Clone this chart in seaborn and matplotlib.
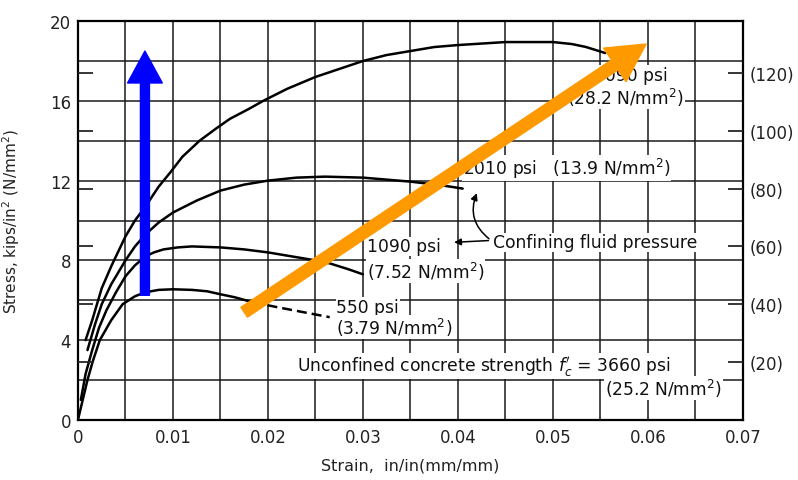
import numpy as np
import pandas as pd
import matplotlib
matplotlib.use("Agg")
import matplotlib.pyplot as plt
import seaborn as sns

# ---------------------------------- Data ------------------------------------------------------------

# strain (in/in) and stress (kips/in^2) for each confining pressure
strain_4090 = [0.0008, 0.0015, 0.0025, 0.0035, 0.005, 0.006, 0.0071, 0.0085, 0.0097, 0.011,
               0.0128, 0.0145, 0.016, 0.018, 0.0195, 0.022, 0.025, 0.0275, 0.030, 0.0325,
               0.035, 0.0375, 0.040, 0.045, 0.050, 0.052, 0.0535, 0.0555]
stress_4090 = [4.0, 5.0, 6.6, 7.7, 9.2, 10.0, 10.7, 11.7, 12.4, 13.2,
               14.0, 14.6, 15.1, 15.6, 16.0, 16.6, 17.2, 17.6, 18.0, 18.3,
               18.5, 18.7, 18.8, 18.95, 18.95, 18.85, 18.7, 18.4]

strain_2010 = [0.001, 0.0018, 0.0025, 0.0035, 0.005, 0.006, 0.0071, 0.0085, 0.010, 0.0125,
               0.015, 0.0175, 0.020, 0.023, 0.026, 0.030, 0.035, 0.0385, 0.0405]
stress_2010 = [3.5, 4.8, 5.8, 6.8, 8.0, 8.7, 9.3, 9.9, 10.4, 11.0,
               11.5, 11.8, 12.0, 12.15, 12.2, 12.15, 11.95, 11.75, 11.6]

strain_1090 = [0.0003, 0.0008, 0.0015, 0.0022, 0.003, 0.004, 0.005, 0.006, 0.0071, 0.008,
               0.009, 0.0105, 0.012, 0.015, 0.0175, 0.020, 0.0225, 0.025, 0.0265, 0.0285, 0.030]
stress_1090 = [1.0, 2.3, 3.5, 4.6, 5.5, 6.4, 7.2, 7.75, 8.2, 8.4,
               8.55, 8.65, 8.7, 8.65, 8.55, 8.4, 8.2, 8.0, 7.85, 7.55, 7.3]

strain_550 = [0.0, 0.0005, 0.001, 0.0016, 0.0023, 0.0035, 0.0047, 0.006, 0.0071, 0.0085,
              0.010, 0.012, 0.0136, 0.015, 0.0165, 0.0184]
stress_550 = [0.0, 1.0, 2.0, 3.0, 4.0, 5.0, 5.8, 6.2, 6.4, 6.52,
              6.55, 6.52, 6.45, 6.3, 6.15, 5.9]
strain_550_dash = [0.0184, 0.021, 0.0265]
stress_550_dash = [5.9, 5.65, 5.15]

x_ticks = [0, 0.01, 0.02, 0.03, 0.04, 0.05, 0.06, 0.07]
x_labels = ["0", "0.01", "0.02", "0.03", "0.04", "0.05", "0.06", "0.07"]
y_ticks = [0, 4, 8, 12, 16, 20]
si_ticks = [20, 40, 60, 80, 100, 120]
si_labels = ["(20)", "(40)", "(60)", "(80)", "(100)", "(120)"]
KSI_TO_MPA = 6.895

# ----------------------------------- Visualization ---------------------------

sns.set_style("white")
plt.rcParams["font.family"] = ["DejaVu Sans"]

fig = plt.figure(figsize=(7.98, 4.81), dpi=100)
ax = fig.add_axes([0.0977, 0.125, 0.8333, 0.829])

line_kw = dict(color="black", lw=1.8, sort=False, zorder=4,
               solid_joinstyle="round", solid_capstyle="round")
for xs, ys in [(strain_4090, stress_4090), (strain_2010, stress_2010),
               (strain_1090, stress_1090), (strain_550, stress_550)]:
    sns.lineplot(x=xs, y=ys, ax=ax, **line_kw)
sns.lineplot(x=strain_550_dash, y=stress_550_dash, ax=ax, color="black", lw=1.8,
             sort=False, linestyle=(0, (4, 2)), zorder=4)

ax.set_xlim(0, 0.07)
ax.set_ylim(0, 20)
ax.set_xticks(x_ticks)
ax.set_xticklabels(x_labels)
ax.set_yticks(y_ticks)
ax.set_xticks(np.arange(0, 0.0701, 0.005), minor=True)
ax.set_yticks(np.arange(0, 20.01, 2), minor=True)
ax.grid(which="both", color="#1a1a1a", lw=1.1, zorder=0)
ax.set_axisbelow(True)
for s in ax.spines.values():
    s.set_color("black")
    s.set_linewidth(1.6)
ax.tick_params(axis="both", which="major", labelsize=12, length=0, pad=5, labelcolor="#222222")
ax.tick_params(axis="x", which="major", pad=6)
ax.tick_params(axis="both", which="minor", length=0)

# N/mm^2 marks on both sides
ax2 = ax.twinx()
ax2.set_ylim(0, 20 * KSI_TO_MPA)
ax2.set_yticks(si_ticks)
ax2.set_yticklabels(si_labels)
ax2.tick_params(axis="y", direction="in", length=11, width=1.3, labelsize=12, pad=5,
                left=True, right=True, labelcolor="#222222")
for s in ax2.spines.values():
    s.set_visible(False)

ax.set_xlabel("Strain,  in/in(mm/mm)", fontsize=11.5, labelpad=8, color="#222222")
ax.set_ylabel("Stress, kips/in$^2$ (N/mm$^2$)", fontsize=11, color="#222222")
ax.yaxis.set_label_coords(-0.084, 0.5)

box = dict(facecolor="white", edgecolor="none", pad=0.6)
txt = dict(fontsize=12.3, color="#111111", zorder=5, bbox=box, va="center")
ax.text(0.0543, 17.3, "4090 psi", **txt)
ax.text(0.0515, 16.2, "(28.2 N/mm$^2$)", **txt)
ax.text(0.0405, 12.65, "2010 psi   (13.9 N/mm$^2$)", **txt)
ax.text(0.0304, 8.7, "1090 psi", **txt)
ax.text(0.0304, 7.45, "(7.52 N/mm$^2$)", **txt)
ax.text(0.0437, 8.9, "Confining fluid pressure", **txt)
ax.text(0.0272, 5.65, "550 psi", **txt)
ax.text(0.0272, 4.65, "(3.79 N/mm$^2$)", **txt)
ax.text(0.0231, 2.7, "Unconfined concrete strength $f_c'$ = 3660 psi", **txt)
ax.text(0.0555, 1.6, "(25.2 N/mm$^2$)", **txt)

ax.annotate("", xy=(0.0421, 11.5), xytext=(0.0435, 9.0),
            arrowprops=dict(arrowstyle="-|>", color="black", lw=1.1,
                            connectionstyle="arc3,rad=-0.4"), zorder=5)
ax.annotate("", xy=(0.0393, 8.9), xytext=(0.0435, 9.0),
            arrowprops=dict(arrowstyle="-|>", color="black", lw=1.1), zorder=5)

# overlaid highlight arrows
ax.annotate("", xy=(0.00705, 18.5), xytext=(0.00705, 6.25),
            arrowprops=dict(facecolor="#0000ff", edgecolor="#0000ff", width=6.5,
                            headwidth=25, headlength=23, shrink=0), zorder=6)
ax.annotate("", xy=(0.0598, 18.85), xytext=(0.0175, 5.4),
            arrowprops=dict(facecolor="#ff9900", edgecolor="#ff9900", width=8.5,
                            headwidth=29, headlength=27, shrink=0), zorder=6)

fig.savefig("out.png", dpi=100)
